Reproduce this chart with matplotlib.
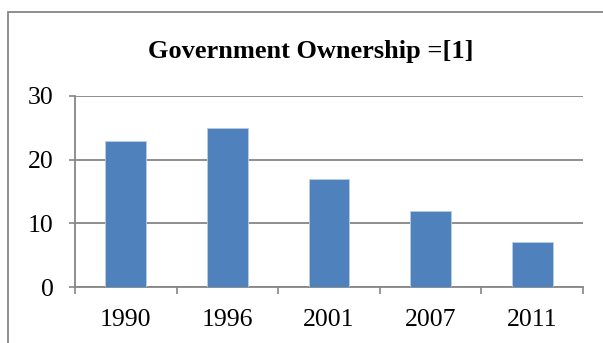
import matplotlib.pyplot as plt
from matplotlib.patches import Rectangle

years = ['1990', '1996', '2001', '2007', '2011']
ownership = [23, 25, 17, 12, 7]
y_ticks = [0, 10, 20, 30]

bar_color = '#4F81BD'
axis_gray = '#868686'

plt.rcParams['font.family'] = ['Liberation Serif', 'DejaVu Serif']

fig = plt.figure(figsize=(6.03, 3.43), dpi=100)
W, H = 603, 343

# outer chart frame, running off the right and bottom edges
fig.patches.append(Rectangle((8 / W, -0.1), 1.2, 1 - 12 / H + 0.1,
                             transform=fig.transFigure, fill=False,
                             edgecolor=axis_gray, linewidth=1.3))

ax = fig.add_axes([75 / W, 1 - 287 / H, 508 / W, 191 / H])
x = range(len(years))
ax.bar(x, ownership, width=0.4, color=bar_color, edgecolor='#B9CDE5',
       linewidth=0.6, zorder=3)

ax.set_xlim(-0.5, len(years) - 0.5)
ax.set_ylim(0, 30)
ax.set_yticks(y_ticks)
ax.set_yticklabels([str(t) for t in y_ticks], fontsize=18.5)
ax.yaxis.grid(True, color=axis_gray, linewidth=1.3, zorder=0)

# category ticks sit between bars, labels sit under the bars
ax.set_xticks([i - 0.5 for i in range(len(years) + 1)])
ax.set_xticklabels([])
ax.set_xticks(list(x), minor=True)
ax.set_xticklabels(years, minor=True, fontsize=18.5)
ax.tick_params(axis='x', which='major', direction='out', length=5,
               width=1.2, color=axis_gray)
ax.tick_params(axis='x', which='minor', length=0, pad=16)
ax.tick_params(axis='y', direction='out', length=4.5, width=1.2,
               color=axis_gray, pad=11)

for side in ['top', 'right']:
    ax.spines[side].set_visible(False)
for side in ['left', 'bottom']:
    ax.spines[side].set_color(axis_gray)
    ax.spines[side].set_linewidth(1.3)

fig.text(311 / W, 1 - 58 / H, 'Government Ownership =[1]', ha='center',
         va='baseline', fontsize=19, fontweight='bold')

fig.savefig('out.png', dpi=100)
